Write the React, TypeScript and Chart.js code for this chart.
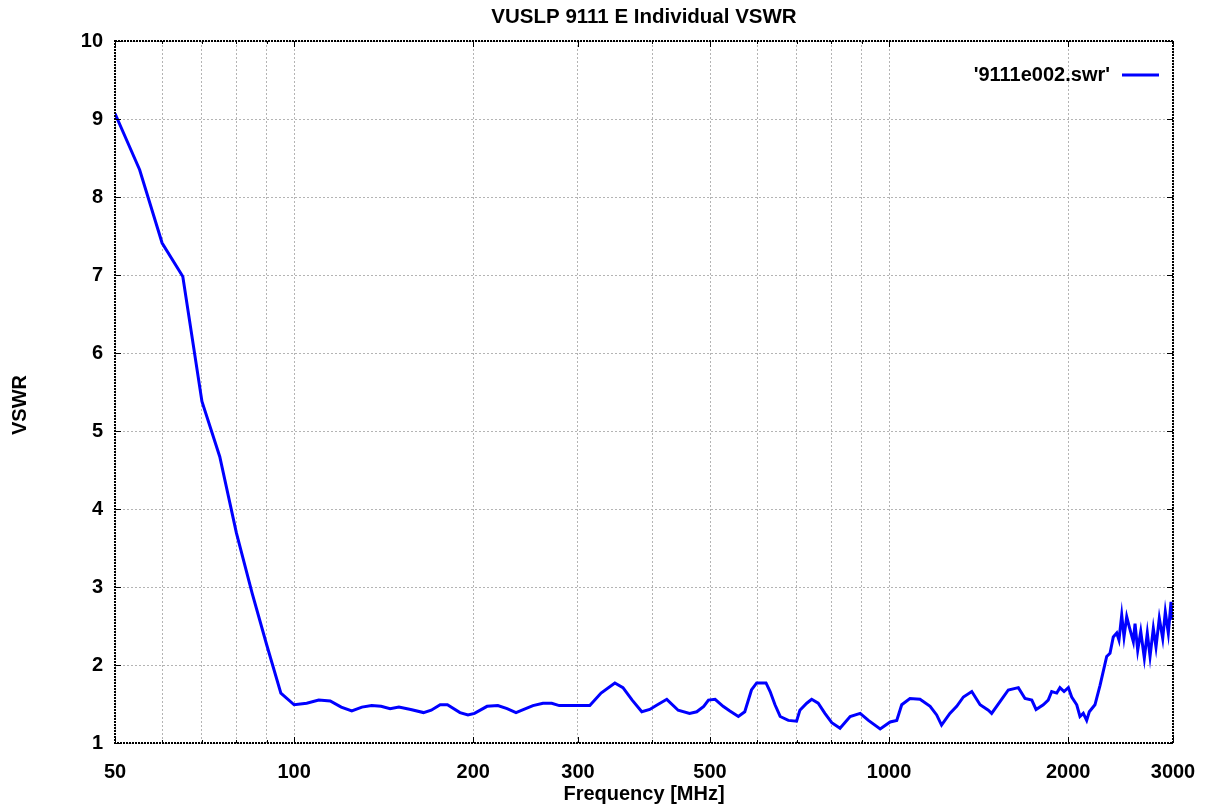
import React, { useEffect, useRef } from "react";
import { Chart, registerables } from "chart.js";

Chart.register(...registerables);

const TITLE = "VUSLP 9111 E Individual VSWR";
const X_TITLE = "Frequency [MHz]";
const Y_TITLE = "VSWR";
const LEGEND_LABEL = "'9111e002.swr'";

const freqs: number[] = [
  50, 55, 60, 65, 70, 75, 80, 85, 90, 95, 100, 105, 110, 115, 120, 125, 130, 135, 140, 145,
  150, 157, 165, 170, 176, 181, 190, 196, 201, 211, 220, 228, 236, 245, 252, 262, 271, 279,
  314, 328, 346, 357, 370, 384, 396, 406, 423, 442, 462, 475, 488, 497, 510, 526, 540, 558,
  572, 587, 599, 621, 631, 643, 656, 677, 699, 708, 727, 741, 760, 780, 801, 827, 860, 894,
  923, 966, 1004, 1030, 1050, 1084, 1127, 1172, 1202, 1225, 1265, 1299, 1333, 1377, 1422,
  1468, 1487, 1536, 1586, 1649, 1692, 1737, 1766, 1816, 1851, 1876, 1913, 1937, 1968, 2001,
  2027, 2067, 2093, 2120, 2148, 2170, 2218, 2262, 2321, 2351, 2381, 2413, 2434, 2460, 2482,
  2508, 2533, 2573, 2590, 2617, 2648, 2685, 2716, 2745, 2780, 2809, 2845, 2883, 2912, 2946,
  2977, 2997, 3000,
];

const vswr: number[] = [
  9.07, 8.35, 7.41, 6.98, 5.38, 4.67, 3.69, 2.92, 2.25, 1.64, 1.49, 1.51, 1.55, 1.54, 1.46,
  1.41, 1.46, 1.48, 1.47, 1.44, 1.46, 1.43, 1.39, 1.42, 1.49, 1.49, 1.39, 1.36, 1.38, 1.47,
  1.48, 1.44, 1.39, 1.44, 1.48, 1.51, 1.51, 1.48, 1.48, 1.64, 1.77, 1.71, 1.55, 1.4, 1.43,
  1.48, 1.56, 1.42, 1.38, 1.4, 1.47, 1.55, 1.56, 1.47, 1.41, 1.34, 1.4, 1.68, 1.77, 1.77,
  1.66, 1.49, 1.34, 1.29, 1.28, 1.42, 1.51, 1.56, 1.51, 1.38, 1.26, 1.19, 1.34, 1.38, 1.29,
  1.18, 1.27, 1.29, 1.49, 1.57, 1.56, 1.47, 1.36, 1.23, 1.38, 1.47, 1.59, 1.66, 1.49, 1.42,
  1.38, 1.53, 1.68, 1.71, 1.57, 1.55, 1.43, 1.49, 1.55, 1.66, 1.64, 1.71, 1.66, 1.71, 1.59,
  1.49, 1.34, 1.38, 1.29, 1.4, 1.49, 1.74, 2.11, 2.15, 2.36, 2.41, 2.32, 2.64, 2.36, 2.62,
  2.49, 2.3, 2.53, 2.19, 2.43, 2.09, 2.41, 2.11, 2.47, 2.23, 2.6, 2.34, 2.68, 2.41, 2.81,
  2.58, 2.75,
];

const xGridValues: number[] = [
  50, 60, 70, 80, 90, 100, 200, 300, 400, 500, 600, 700, 800, 900, 1000, 2000, 3000,
];
const xLabelValues: number[] = [50, 100, 200, 300, 500, 1000, 2000, 3000];
const yTickValues: number[] = [1, 2, 3, 4, 5, 6, 7, 8, 9, 10];

const FONT = "'Liberation Sans', Arial, sans-serif";

const overlayPlugin = {
  id: "gnuplotOverlay",
  afterDraw(chart: any) {
    const ctx = chart.ctx as CanvasRenderingContext2D;
    const { left, right, top, bottom } = chart.chartArea;
    const xs = chart.scales.x;
    const ys = chart.scales.y;
    ctx.save();

    // ticks
    ctx.strokeStyle = "#000";
    ctx.lineWidth = 1;
    ctx.setLineDash([]);
    ctx.beginPath();
    for (const v of xGridValues) {
      const px = Math.round(xs.getPixelForValue(v)) + 0.5;
      const len = xLabelValues.includes(v) ? 6 : 3;
      ctx.moveTo(px, bottom);
      ctx.lineTo(px, bottom - len);
      ctx.moveTo(px, top);
      ctx.lineTo(px, top + len);
    }
    for (const v of yTickValues) {
      const py = Math.round(ys.getPixelForValue(v)) + 0.5;
      ctx.moveTo(left, py);
      ctx.lineTo(left + 6, py);
      ctx.moveTo(right, py);
      ctx.lineTo(right - 6, py);
    }
    ctx.stroke();

    // frame
    ctx.strokeStyle = "#000";
    ctx.lineWidth = 2;
    ctx.setLineDash([2, 1]);
    ctx.strokeRect(left, top, right - left, bottom - top);
    ctx.setLineDash([]);

    // title
    ctx.fillStyle = "#000";
    ctx.font = `bold 20.5px ${FONT}`;
    ctx.textAlign = "center";
    ctx.textBaseline = "middle";
    ctx.fillText(TITLE, (left + right) / 2, 17);

    ctx.font = `bold 20px ${FONT}`;
    // x title
    ctx.fillText(X_TITLE, (left + right) / 2, 794);

    // y title
    ctx.save();
    ctx.translate(20, 405);
    ctx.rotate(-Math.PI / 2);
    ctx.fillText(Y_TITLE, 0, 0);
    ctx.restore();

    // legend
    ctx.textAlign = "right";
    ctx.fillText(LEGEND_LABEL, right - 63, 75);
    ctx.strokeStyle = "#0000ff";
    ctx.lineWidth = 3;
    ctx.beginPath();
    ctx.moveTo(right - 51, 75);
    ctx.lineTo(right - 14, 75);
    ctx.stroke();

    ctx.restore();
  },
};

export default function App() {
  const canvasRef = useRef<HTMLCanvasElement | null>(null);

  useEffect(() => {
    if (!canvasRef.current) return;
    const data = freqs.map((f, i) => ({ x: f, y: vswr[i] }));
    const chart = new Chart(canvasRef.current, {
      type: "line",
      data: {
        datasets: [
          {
            label: LEGEND_LABEL,
            data,
            borderColor: "#0000ff",
            backgroundColor: "#0000ff",
            borderWidth: 3,
            pointRadius: 0,
            tension: 0,
            fill: false,
          },
        ],
      },
      options: {
        animation: false,
        responsive: true,
        maintainAspectRatio: false,
        layout: { padding: { top: 41, right: 34, left: 0, bottom: 0 } },
        plugins: {
          legend: { display: false },
          title: { display: false },
          tooltip: { enabled: false },
        },
        scales: {
          x: {
            type: "logarithmic",
            min: 50,
            max: 3000,
            afterBuildTicks: (scale: any) => {
              scale.ticks = xGridValues.map((v) => ({ value: v }));
            },
            afterFit: (scale: any) => {
              scale.height = 64;
            },
            ticks: {
              autoSkip: false,
              maxRotation: 0,
              minRotation: 0,
              padding: 9,
              color: "#000",
              font: { family: FONT, size: 20, weight: "bold", lineHeight: 2.0 },
              callback: (v: any) => (xLabelValues.includes(Number(v)) ? String(v) : ""),
            },
            grid: { color: "#b4b4b4", lineWidth: 1, drawTicks: false },
            border: { display: false, dash: [2, 2] },
          },
          y: {
            type: "linear",
            min: 1,
            max: 10,
            afterBuildTicks: (scale: any) => {
              scale.ticks = yTickValues.map((v) => ({ value: v }));
            },
            afterFit: (scale: any) => {
              scale.width = 115;
            },
            ticks: {
              padding: 12,
              color: "#000",
              font: { family: FONT, size: 20, weight: "bold" },
              callback: (v: any) => String(v),
            },
            grid: { color: "#b4b4b4", lineWidth: 1, drawTicks: false },
            border: { display: false, dash: [2, 2] },
          },
        },
      },
      plugins: [overlayPlugin],
    });
    return () => chart.destroy();
  }, []);

  return (
    <div style={{ position: "fixed", left: 0, top: 0, width: 1207, height: 807, background: "#fff" }}>
      <canvas ref={canvasRef} />
    </div>
  );
}
